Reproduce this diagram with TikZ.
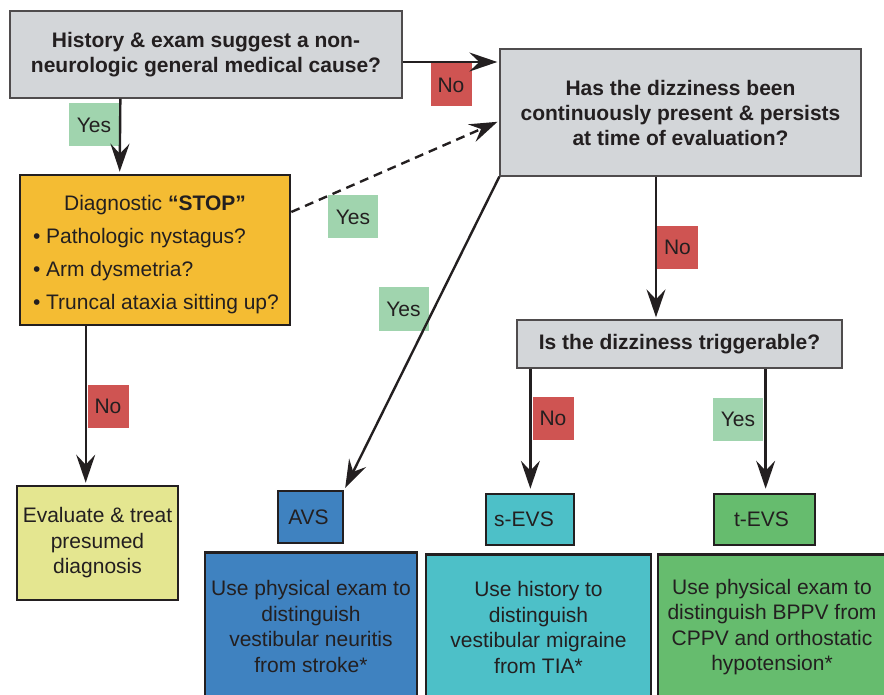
\documentclass[tikz,border=0pt]{standalone}
\usepackage{fontspec}
\setmainfont{Liberation Sans}
\usetikzlibrary{arrows.meta}
\definecolor{ink}{HTML}{231F20}
\definecolor{graybox}{HTML}{D3D6D9}
\definecolor{stopc}{HTML}{F4BC33}
\definecolor{evalc}{HTML}{E4E690}
\definecolor{avsc}{HTML}{3F82C0}
\definecolor{sevsc}{HTML}{4DC0C8}
\definecolor{tevsc}{HTML}{66BC6E}
\definecolor{noc}{HTML}{CF5452}
\definecolor{yesc}{HTML}{A0D4AE}
\begin{document}
\begin{tikzpicture}[x=1pt,y=-1pt,
  every node/.style={font=\fontsize{21}{25.5}\selectfont, text=ink, inner sep=0pt},
  qbox/.style={draw=ink!80, line width=1.3pt, fill=graybox, align=center, font=\fontsize{21}{25}\selectfont\bfseries},
  cbox/.style={draw=ink, line width=2.6pt, align=center},
  yeslab/.style={fill=yesc, minimum width=50pt, minimum height=43pt},
  nolab/.style={fill=noc, minimum width=41pt, minimum height=43pt},
  arr/.style={draw=ink, line width=2.4pt, -{Stealth[length=28pt,width=19pt,inset=10pt]}, shorten >=2pt},
]
\useasboundingbox (0,0) rectangle (884,695);

% boxes
\node[qbox, minimum width=392pt, minimum height=87pt] (A) at (206,54.5)
  {History \& exam suggest a non-\\neurologic general medical cause?};
\node[qbox, minimum width=361pt, minimum height=127pt] (B) at (680.5,112.5)
  {Has the dizziness been\\continuously present \& persists\\at time of evaluation?};
\node[cbox, fill=stopc, minimum width=270pt, minimum height=150pt] (S) at (155,250)
  {\parbox{264pt}{\vspace*{9pt}\baselineskip=33pt\centering Diagnostic \textbf{“STOP”}\par
   \raggedright\leftskip=10pt • Pathologic nystagus?\par • Arm dysmetria?\par • Truncal ataxia sitting up?}};
\node[cbox, fill=evalc, minimum width=161pt, minimum height=114pt] (E) at (97.5,543)
  {Evaluate \& treat\\presumed\\diagnosis};
\node[qbox, minimum width=325pt, minimum height=48pt] (T) at (679.5,344)
  {Is the dizziness triggerable?};

\node[cbox, fill=avsc, minimum width=65pt, minimum height=52pt] (avs) at (310.5,517) {AVS\hspace*{4pt}};
\node[cbox, fill=sevsc, minimum width=88pt, minimum height=51pt] (sevs) at (530,519.5) {s-EVS\hspace*{12pt}};
\node[cbox, fill=tevsc, minimum width=101pt, minimum height=51pt] (tevs) at (764.5,519.5) {t-EVS\hspace*{6pt}};

\node[cbox, fill=avsc, minimum width=212pt, minimum height=148pt, anchor=north] (avsb) at (311,551)
  {Use physical exam to\\distinguish\\vestibular neuritis\\from stroke*};
\node[cbox, fill=sevsc, minimum width=225pt, minimum height=146pt, anchor=north] (sevsb) at (538.5,553)
  {Use history to\\distinguish\\vestibular migraine\\from TIA*};
\node[cbox, fill=tevsc, minimum width=228pt, minimum height=146pt, anchor=north] (tevsb) at (772,553)
  {Use physical exam to\\distinguish BPPV from\\CPPV and orthostatic\\hypotension*};

% labels
\node[yeslab] (y1) at (94,125) {Yes};
\node[nolab] (n1) at (451,85) {No};
\node[yeslab] (y2) at (353,217) {Yes};
\node[yeslab] (y3) at (403.5,309) {Yes};
\node[nolab] (n2) at (677.5,247.5) {No};
\node[nolab] (n3) at (553,418.5) {No};
\node[yeslab] (y4) at (738,419) {Yes};
\node[nolab] (n4) at (108,406) {No};

% connectors
\coordinate (a1) at ([yshift=-7.5pt]A.east);
\draw[arr] (a1) -- (a1 -| B.west);
\draw[arr] ([xshift=111pt]A.south west) -- ([xshift=101pt]S.north west);
\draw[arr, dash pattern=on 9pt off 6pt] ([yshift=38pt]S.east) -- ([yshift=-8.5pt]B.west);
\draw[arr] (B.south west) -- (avs.north east);
\coordinate (b1) at ([xshift=-24.5pt]B.south);
\draw[arr] (b1) -- (b1 |- T.north);
\coordinate (t1) at ([xshift=14pt]T.south west);
\draw[arr, shorten >=4pt] (t1) -- (t1 |- sevs.north);
\coordinate (t2) at ([xshift=-77pt]T.south east);
\draw[arr, shorten >=4pt] (t2) -- (t2 |- tevs.north);
\coordinate (s1) at ([xshift=67pt]S.south west);
\draw[arr] (s1) -- (s1 |- E.north);
\end{tikzpicture}
\end{document}
